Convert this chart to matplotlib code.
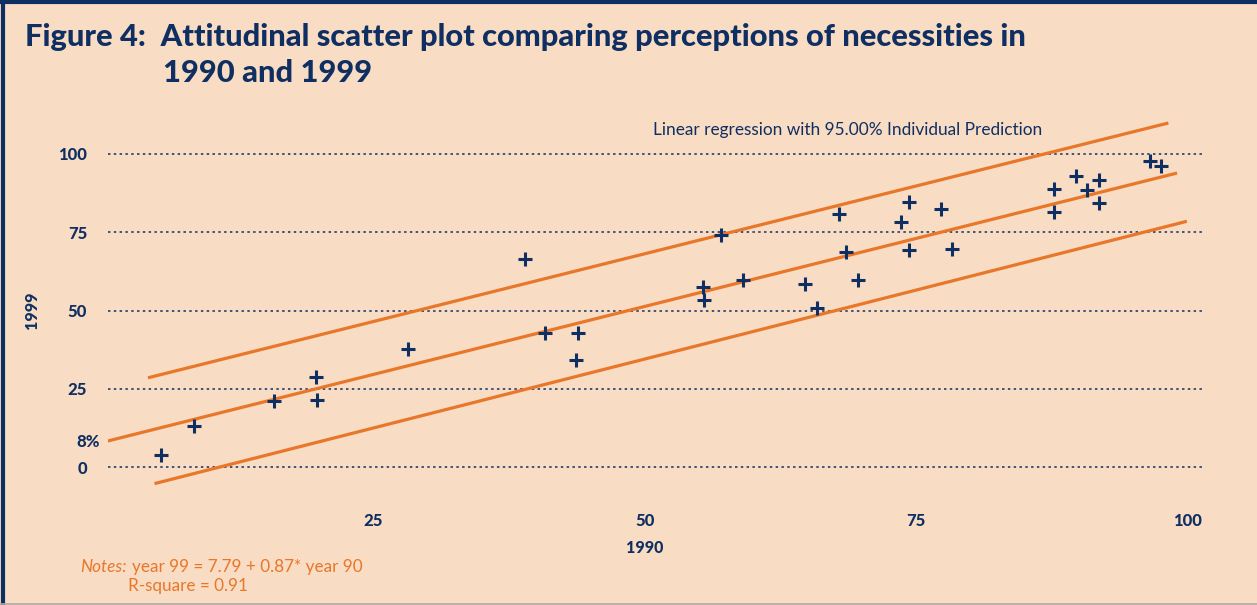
import matplotlib.pyplot as plt
from matplotlib.lines import Line2D

# scatter values (1990 vs 1999, % saying necessity)
year90 = [5.5, 8.5, 15.9, 19.8, 19.9, 28.2, 39.0, 40.8, 43.9, 43.7,
          55.4, 55.5, 57.0, 59.1, 64.8, 65.9, 67.9, 68.5, 69.6, 73.6,
          74.3, 74.3, 77.3, 78.3, 87.7, 87.7, 89.7, 90.7, 91.8, 91.8,
          96.5, 97.5]
year99 = [3.7, 13.1, 21.1, 28.7, 21.4, 37.8, 66.5, 42.7, 42.7, 34.3,
          57.6, 53.5, 74.2, 59.7, 58.5, 50.7, 80.9, 68.8, 59.7, 78.4,
          84.6, 69.2, 82.5, 69.6, 88.7, 81.6, 92.9, 88.5, 91.7, 84.4,
          97.9, 96.3]

# regression line and 95% individual prediction band
intercept = 7.79
slope = 0.87
fit_x = [0.3, 99.0]
upper_x = [4.3, 98.2]
upper_y = [28.5, 109.9]
lower_x = [4.9, 99.9]
lower_y = [-5.3, 78.5]

yticks = [0, 25, 50, 75, 100]
xticks = [25, 50, 75, 100]

navy = "#0f2f62"
orange = "#e8772a"
bg = "#f8dcc3"

plt.rcParams["font.family"] = ["Lato", "DejaVu Sans"]

fig = plt.figure(figsize=(12.57, 6.05), dpi=100, facecolor=bg)
ax = fig.add_axes([0.0859, 0.1815, 0.8711, 0.6364])
ax.set_facecolor(bg)
ax.set_xlim(0.62, 101.38)
ax.set_ylim(-9, 114)

for v in yticks:
    ax.axhline(v, color=navy, lw=1.1, ls=(0, (1.6, 2.2)), zorder=1)

fit_y = [intercept + slope * x for x in fit_x]
ax.plot(fit_x, fit_y, color=orange, lw=2.3, solid_capstyle="butt", zorder=2)
ax.plot(upper_x, upper_y, color=orange, lw=2.3, solid_capstyle="butt", zorder=2)
ax.plot(lower_x, lower_y, color=orange, lw=2.3, solid_capstyle="butt", zorder=2)

ax.plot(year90, year99, ls="none", marker="+", ms=9.5, mew=2.2, color=navy, zorder=3)

for s in ax.spines.values():
    s.set_visible(False)
ax.set_yticks(yticks)
ax.set_yticklabels([str(v) for v in yticks])
ax.set_xticks(xticks)
ax.set_xticklabels([str(v) for v in xticks])
ax.tick_params(length=0, labelcolor=navy, labelsize=12)
ax.tick_params(axis="y", pad=15)
ax.tick_params(axis="x", pad=13)
for lab in ax.get_xticklabels() + ax.get_yticklabels():
    lab.set_fontweight("black")

ax.text(-0.007, 8, "8%", transform=ax.get_yaxis_transform(), ha="right", va="center",
        color=navy, fontsize=12, fontweight="black")

fig.text(32 / 1257, 1 - 310 / 605, "1999", rotation=90, ha="center", va="center",
         color=navy, fontsize=11.5, fontweight="black")
fig.text(645 / 1257, 1 - 548 / 605, "1990", ha="center", va="center",
         color=navy, fontsize=11.5, fontweight="black")

fig.text(653 / 1257, 1 - 130 / 605, "Linear regression with 95.00% Individual Prediction",
         ha="left", va="center", color=navy, fontsize=12.4)

fig.text(25 / 1257, 1 - 37 / 605,
         "Figure 4:  Attitudinal scatter plot comparing perceptions of necessities in",
         ha="left", va="center", color=navy, fontsize=22.2, fontweight="black")
fig.text(163 / 1257, 1 - 73 / 605, "1990 and 1999",
         ha="left", va="center", color=navy, fontsize=22.2, fontweight="black")

fig.text(80 / 1257, 1 - 567 / 605, "Notes:", ha="left", va="center",
         color=orange, fontsize=12.3, style="italic")
fig.text(132 / 1257, 1 - 567 / 605, "year 99 = 7.79 + 0.87* year 90", ha="left",
         va="center", color=orange, fontsize=12.3)
fig.text(128 / 1257, 1 - 586 / 605, "R-square = 0.91", ha="left", va="center",
         color=orange, fontsize=12.3)

# page frame: navy top and left, thin grey bottom
fig.add_artist(Line2D([0, 1], [0.996, 0.996], transform=fig.transFigure, color=navy, lw=3))
fig.add_artist(Line2D([0.002, 0.002], [0, 1], transform=fig.transFigure, color=navy, lw=3))
fig.add_artist(Line2D([0, 1], [0.002, 0.002], transform=fig.transFigure, color="#b0aaa6", lw=1.2))

fig.savefig("out.png", dpi=100, facecolor=bg)
